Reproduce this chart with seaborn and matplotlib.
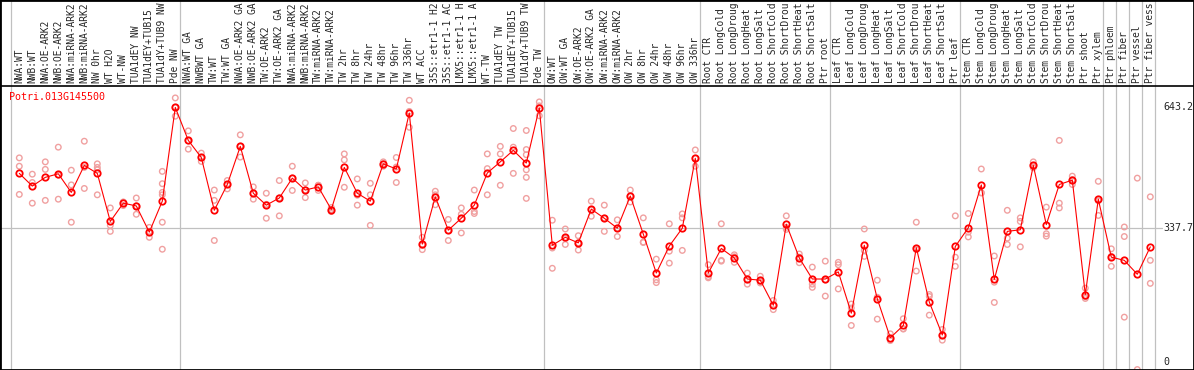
import numpy as np
import pandas as pd
import matplotlib
matplotlib.use('Agg')
import matplotlib.pyplot as plt
import seaborn as sns
from matplotlib.lines import Line2D
from matplotlib.transforms import blended_transform_factory

gene = 'Potri.013G145500'

# sample names as the source shows them (cut at 14 characters)
labels = [
    'NWA:WT', 'NWB:WT', 'NWA:OE-ARK2', 'NWB:OE-ARK2', 'NWA:miRNA-ARK2', 'NWB:miRNA-ARK2',
    'NW 0hr', 'WT H2O', 'WT-NW', 'TUA1dEY NW', 'TUA1dEY+TUB15', 'TUA1dY+TUB9 NW', 'Pde NW',
    'NWA:WT GA', 'NWBWT GA', 'TW:WT', 'TW:WT GA', 'NWA:OE-ARK2 GA', 'NWB:OE-ARK2 GA',
    'TW:OE-ARK2', 'TW:OE-ARK2 GA', 'NWA:miRNA-ARK2', 'NWB:miRNA-ARK2', 'TW:miRNA-ARK2',
    'TW:miRNA-ARK2', 'TW 2hr', 'TW 8hr', 'TW 24hr', 'TW 48hr', 'TW 96hr', 'TW 336hr',
    'WT ACC', '35S::etr1-1 H2', '35S::etr1-1 AC', 'LMX5::etr1-1 H', 'LMX5::etr1-1 A',
    'WT-TW', 'TUA1dEY TW', 'TUA1dEY+TUB15', 'TUA1dY+TUB9 TW', 'Pde TW',
    'OW:WT', 'OW:WT GA', 'OW:OE-ARK2', 'OW:OE-ARK2 GA', 'OW:miRNA-ARK2', 'OW:miRNA-ARK2',
    'OW 2hr', 'OW 8hr', 'OW 24hr', 'OW 48hr', 'OW 96hr', 'OW 336hr',
    'Root CTR', 'Root LongCold', 'Root LongDroug', 'Root LongHeat', 'Root LongSalt',
    'Root ShortCold', 'Root ShortDrou', 'Root ShortHeat', 'Root ShortSalt', 'Ptr root',
    'Leaf CTR', 'Leaf LongCold', 'Leaf LongDroug', 'Leaf LongHeat', 'Leaf LongSalt',
    'Leaf ShortCold', 'Leaf ShortDrou', 'Leaf ShortHeat', 'Leaf ShortSalt', 'Ptr leaf',
    'Stem CTR', 'Stem LongCold', 'Stem LongDroug', 'Stem LongHeat', 'Stem LongSalt',
    'Stem ShortCold', 'Stem ShortDrou', 'Stem ShortHeat', 'Stem ShortSalt', 'Ptr shoot',
    'Ptr xylem', 'Ptr phloem', 'Ptr fiber', 'Ptr vessel', 'Ptr fiber vess',
]

means = [
    476, 444, 466, 475, 428, 496, 476, 355, 401, 394, 328, 406, 642,
    559, 516, 383, 448, 544, 426, 396, 414, 464, 434, 442, 385, 491, 426, 406, 500, 487, 628,
    298, 417, 333, 363, 396, 477, 505, 534, 502, 641,
    295, 315, 301, 386, 363, 338, 419, 323, 225, 293, 338, 514,
    225, 287, 263, 210, 207, 144, 348, 263, 210, 210,
    228, 124, 295, 160, 62, 93, 289, 152, 69, 292,
    339, 447, 209, 330, 334, 496, 347, 448, 459, 171,
    411, 265, 257, 222, 291,
]

reps = [
    [515, 494, 423], [474, 453, 401], [505, 486, 408], [542, 472, 411], [484, 447, 353],
    [557, 491, 438], [500, 491, 485, 422], [389, 345, 330], [404, 403, 395], [414, 394, 373],
    [340, 330, 315], [481, 450, 428, 422, 353, 285], [666, 642, 620],
    [583, 558, 537], [527, 516, 506], [434, 408, 307], [458, 448, 437], [573, 544, 517],
    [442, 426, 411], [426, 398, 363], [458, 414, 369], [494, 464, 433], [452, 434, 415],
    [446, 446, 433], [390, 385, 380], [525, 510, 441], [462, 421, 396], [451, 422, 345],
    [505, 500, 494], [516, 492, 453], [660, 632, 592],
    [315, 295, 284], [431, 422, 397], [360, 332, 307], [389, 373, 326], [434, 380, 375],
    [525, 488, 422], [544, 525, 446], [589, 542, 476], [584, 536, 523, 485, 466, 413],
    [656, 646, 621],
    [358, 288, 237], [336, 312, 297], [319, 301, 283], [406, 384, 368], [396, 363, 330],
    [359, 338, 317], [434, 419, 404], [364, 303, 302], [260, 208, 201], [349, 280, 250],
    [374, 364, 282], [535, 514, 494],
    [246, 216, 213], [349, 257, 255], [271, 266, 252], [225, 208, 197], [217, 204, 200],
    [156, 143, 133], [369, 340, 335], [273, 265, 251], [240, 197, 189], [255, 208, 167],
    [252, 246, 185], [147, 137, 93], [336, 282, 267], [207, 164, 109], [72, 59, 55],
    [110, 85, 84], [353, 284, 230], [171, 166, 119], [83, 68, 56], [369, 265, 242],
    [375, 328, 316], [487, 427, 427], [268, 202, 151], [383, 313, 297], [364, 355, 291],
    [505, 493, 490], [391, 324, 318], [559, 401, 389], [469, 460, 448], [187, 165, 161],
    [456, 407, 370], [286, 267, 242], [341, 317, 114], [464, -18], [417, 257, 199],
]

# last sample of each group (a grey separator follows it)
group_ends = [12, 40, 52, 62, 72, 83, 84, 85, 86, 87]
y_ticks = [643.2, 337.7, 0]

red = '#ff0000'
pink = '#f0a0a0'
grey = '#c0c0c0'

sns.set_style('white')
plt.rcParams['font.family'] = ['DejaVu Sans Mono', 'DejaVu Sans']

W, H = 1194, 370
top = 86  # row of the black line below the labels
fig = plt.figure(figsize=(W / 100, H / 100), dpi=100)
ax = fig.add_axes([0, 0, 1, (H - top) / H])
# column i sits at pixel 19.3 + 13 * i
ax.set_xlim(-19.3 / 13, (W - 19.3) / 13)
ax.set_ylim(-19.1, 696)
ax.axis('off')

# grey separators, also running through the label strip
for x in [-0.66] + [e + 0.38 for e in group_ends]:
    ax.axvline(x, 0, H / (H - top), color=grey, lw=0.9, clip_on=False, zorder=0)
ax.axhline(337.7, 0, 1162 / W, color=grey, lw=0.9, zorder=0)

df_rep = pd.DataFrame(
    [(i, v) for i, vals in enumerate(reps) for v in vals], columns=['col', 'value'])
sns.scatterplot(data=df_rep, x='col', y='value', marker='o', s=16, color=pink,
                legend=False, ax=ax, zorder=2)
pts = ax.collections[-1]
pts.set_facecolor('none')
pts.set_edgecolor(pink)
pts.set_linewidth(1.0)

sns.lineplot(x=np.arange(len(means)), y=means, color=red, linewidth=0.8,
             marker='o', markersize=4.6, markerfacecolor='none',
             markeredgecolor=red, markeredgewidth=1.3, ax=ax, zorder=3)

# sample names
tr = blended_transform_factory(ax.transData, fig.transFigure)
for i, lab in enumerate(labels):
    ax.text(i, (H - 83) / H, lab, transform=tr, rotation=90, ha='center', va='bottom',
            fontsize=6.9, clip_on=False)

tick_x = (1163 - 19.3) / 13
for v in y_ticks:
    ax.text(tick_x, v, f'{v:g}', ha='left', va='center', fontsize=7.2, clip_on=False)

fig.text(9 / W, 1 - 97 / H, gene, color=red, fontsize=7.2, ha='left', va='center')

fig.add_artist(Line2D([0, 1], [(H - top) / H] * 2, transform=fig.transFigure,
                      color='black', lw=1.2))
fig.add_artist(plt.Rectangle((0, 0), 1, 1, transform=fig.transFigure, fill=False,
                             ec='black', lw=2))

fig.savefig('out.png', dpi=100)
